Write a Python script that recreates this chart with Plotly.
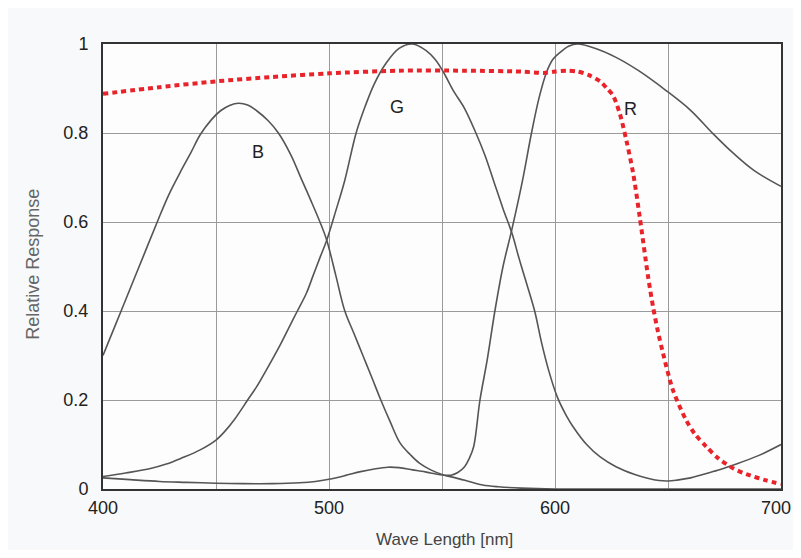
import plotly.graph_objects as go

# Blue channel
b_nm = [400, 406, 412, 418, 424, 429, 434, 439, 443, 448, 452, 456, 460, 464, 468, 473, 477.6, 483, 488, 492, 496, 499, 503, 507, 511, 515, 519, 522.6, 527, 531.5, 536, 540, 545, 551, 556, 562, 568, 575, 585, 600, 650, 700]
b_val = [0.30, 0.375, 0.45, 0.525, 0.60, 0.66, 0.71, 0.757, 0.796, 0.83, 0.85, 0.862, 0.867, 0.863, 0.85, 0.828, 0.80, 0.752, 0.694, 0.648, 0.60, 0.559, 0.48, 0.40, 0.35, 0.30, 0.25, 0.204, 0.152, 0.103, 0.077, 0.058, 0.043, 0.031, 0.025, 0.017, 0.009, 0.005, 0.002, 0.0, 0.0, 0.0]

# Green channel
g_nm = [400, 410, 421, 428, 435, 443, 450, 454, 458, 464, 468, 472, 478, 482, 486, 490, 493, 496, 499, 503, 507, 512, 516, 520, 525, 531, 537, 543, 547, 550.6, 555, 560, 565, 569, 573, 577, 581, 584, 587, 591, 594, 597, 601, 605, 608, 614, 620, 627, 635, 641, 646, 650, 654, 660, 665, 672, 679, 690, 700]
g_val = [0.028, 0.036, 0.046, 0.056, 0.07, 0.088, 0.11, 0.13, 0.155, 0.20, 0.23, 0.265, 0.32, 0.36, 0.40, 0.44, 0.48, 0.52, 0.559, 0.625, 0.694, 0.80, 0.86, 0.91, 0.955, 0.99, 1.0, 0.985, 0.965, 0.937, 0.895, 0.855, 0.80, 0.75, 0.69, 0.63, 0.574, 0.52, 0.469, 0.40, 0.33, 0.27, 0.207, 0.165, 0.14, 0.10, 0.072, 0.05, 0.033, 0.024, 0.019, 0.018, 0.02, 0.025, 0.032, 0.042, 0.054, 0.075, 0.10]

# Red channel
r_nm = [400, 412, 425, 437, 450, 462, 475, 487, 494, 500, 507, 514, 520, 526, 531, 537, 541, 545, 551, 554, 557, 560, 562, 564, 566.8, 570, 573.4, 577, 581, 585.5, 589.6, 593, 596.3, 599, 602, 606, 610, 618, 627, 637, 649, 660, 670, 679, 688, 700]
r_val = [0.025, 0.021, 0.017, 0.015, 0.013, 0.012, 0.012, 0.014, 0.017, 0.022, 0.03, 0.039, 0.045, 0.049, 0.048, 0.043, 0.04, 0.036, 0.031, 0.031, 0.037, 0.05, 0.068, 0.095, 0.20, 0.29, 0.40, 0.50, 0.585, 0.69, 0.80, 0.88, 0.937, 0.965, 0.98, 0.995, 1.0, 0.99, 0.97, 0.94, 0.896, 0.851, 0.798, 0.754, 0.716, 0.68]

# Red dotted (filter / transmission) curve
f_nm = [400, 425, 450, 475, 500, 531, 560, 585, 595, 600, 605, 610, 615, 620, 623, 625.7, 628.7, 631.6, 634.6, 637.5, 641.2, 643.4, 645.5, 647.8, 652.2, 658, 662, 667, 672, 679, 686, 693, 700]
f_val = [0.888, 0.903, 0.916, 0.926, 0.934, 0.94, 0.94, 0.938, 0.935, 0.938, 0.94, 0.938, 0.93, 0.916, 0.90, 0.884, 0.843, 0.783, 0.709, 0.611, 0.477, 0.409, 0.355, 0.305, 0.222, 0.155, 0.123, 0.095, 0.07, 0.046, 0.031, 0.02, 0.011]

x_ticks = [400, 450, 500, 550, 600, 650, 700]
x_ticktext = ["400", "", "500", "", "600", "", ""]
x_last_label = "700"
y_ticks = [0, 0.2, 0.4, 0.6, 0.8, 1.0]
y_ticktext = ["0", "0.2", "0.4", "0.6", "0.8", "1"]

labels = [("B", 468.5, 0.757), ("G", 530.1, 0.858), ("R", 633.2, 0.855)]

FONT = "Liberation Sans, Arial, sans-serif"
curve_color = "#555555"
fig = go.Figure()
for xs, ys in [(b_nm, b_val), (g_nm, g_val), (r_nm, r_val)]:
    fig.add_trace(go.Scatter(x=xs, y=ys, mode="lines",
                             line=dict(color=curve_color, width=1.6, shape="spline", smoothing=1.0),
                             showlegend=False, hoverinfo="skip"))
fig.add_trace(go.Scatter(x=f_nm, y=f_val, mode="lines",
                         line=dict(color="#e8232a", width=4, dash="5px,4px", shape="spline", smoothing=0.8),
                         showlegend=False, hoverinfo="skip"))

for txt, xv, yv in labels:
    fig.add_annotation(x=xv, y=yv, xref="x", yref="y", text=txt, showarrow=False,
                       font=dict(family=FONT, size=18, color="#222222"))

# last x tick label, kept inside the visible page edge
fig.add_annotation(x=1.0155, y=-0.0427, xref="paper", yref="paper", text=x_last_label,
                   showarrow=False, xanchor="right", yanchor="middle", borderpad=0,
                   font=dict(family=FONT, size=18, color="#222222"))

fig.add_annotation(x=0.5044, y=-0.1369, xref="paper", yref="paper", text="Wave Length [nm]",
                   showarrow=False, yanchor="bottom", xanchor="center", borderpad=0,
                   font=dict(family=FONT, size=17, color="#444444"))
fig.add_annotation(x=-0.1024, y=0.505, xref="paper", yref="paper", text="Relative Response",
                   showarrow=False, textangle=-90, yanchor="middle", xanchor="center",
                   font=dict(family=FONT, size=18, color="#666666"))

fig.update_layout(
    width=790, height=542,
    margin=dict(l=94.5, r=16.5, t=35.5, b=61, pad=0, autoexpand=False),
    paper_bgcolor="#f8f9fa", plot_bgcolor="#fdfdfd",
    font=dict(family=FONT, size=18, color="#222222"),
)
fig.update_xaxes(range=[400, 700], tickvals=x_ticks, ticktext=x_ticktext, automargin=False,
                 showgrid=True, gridcolor="#9a9a9a", gridwidth=1, zeroline=False,
                 showline=True, mirror=True, linecolor="#333333", linewidth=2,
                 ticks="", ticklabelstandoff=1, tickfont=dict(family=FONT, size=18, color="#222222"))
fig.update_yaxes(range=[0, 1], tickvals=y_ticks, ticktext=y_ticktext, automargin=False,
                 showgrid=True, gridcolor="#9a9a9a", gridwidth=1, zeroline=False,
                 showline=True, mirror=True, linecolor="#333333", linewidth=2,
                 ticks="", ticklabelstandoff=9, tickfont=dict(family=FONT, size=18, color="#222222"))

fig.write_html("out.html")
